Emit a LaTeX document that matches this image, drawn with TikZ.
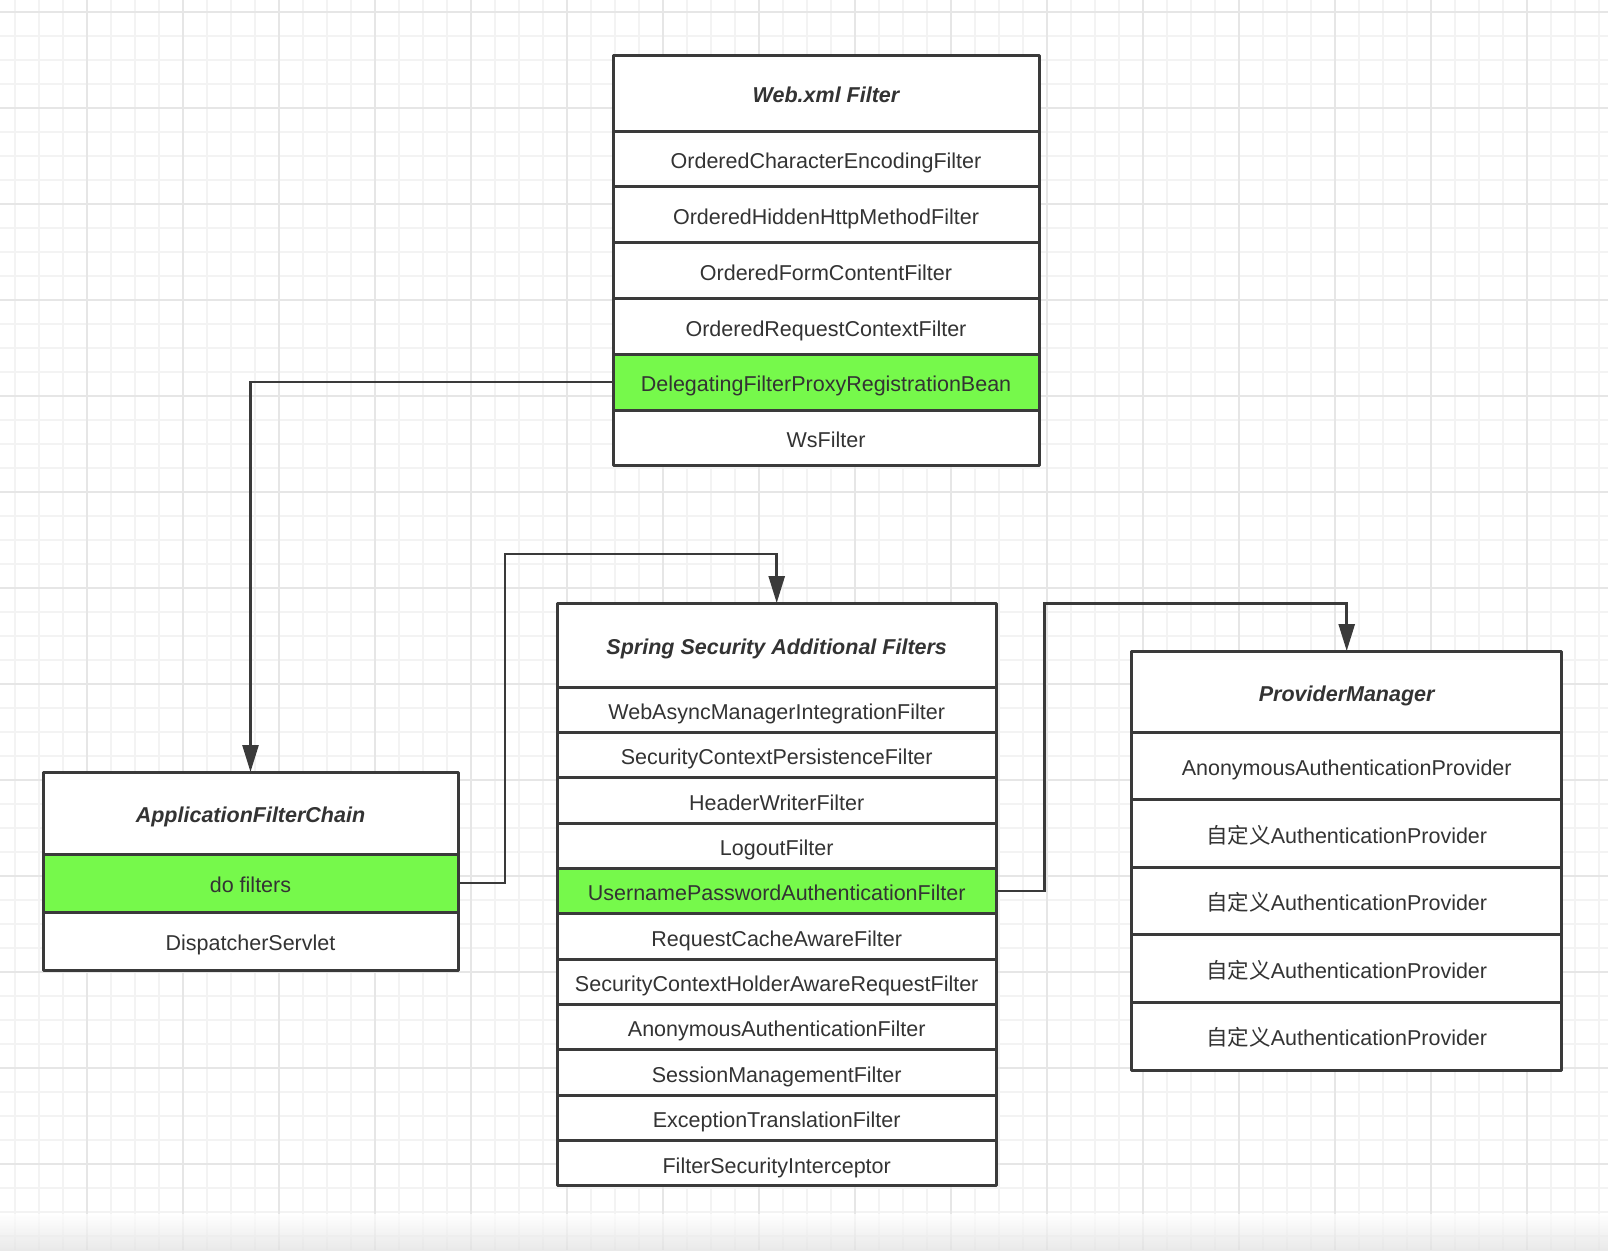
\documentclass[tikz,border=0pt]{standalone}
\usepackage{fontspec}
\setmainfont{Liberation Sans}
\newfontfamily\cjk{Noto Sans CJK SC}
\usetikzlibrary{arrows.meta}
\definecolor{linegray}{RGB}{58,58,58}
\definecolor{textgray}{RGB}{51,51,51}
\definecolor{hitgreen}{RGB}{118,249,75}
\definecolor{minorgrid}{RGB}{243,243,243}
\definecolor{majorgrid}{RGB}{230,230,230}
\tikzset{
  box/.style={draw=linegray, line width=3pt, fill=white, text=textgray,
    outer sep=0pt, inner sep=0pt, line join=round,
    text height=19.4pt, text depth=0pt,
    font=\fontsize{21.5}{26}\selectfont},
  head/.style={box, font=\fontsize{21.5}{26}\selectfont\bfseries\itshape},
  hit/.style={box, fill=hitgreen},
  link/.style={draw=linegray, line width=2.6pt,
    -{Triangle[length=27pt,width=16pt]}},
}
\begin{document}
\begin{tikzpicture}[x=1pt,y=-1pt]
    \useasboundingbox (0,0) rectangle (1608,1250);
    \fill[white] (0,0) rectangle (1608,1250);
    % background grid
    \foreach \x in {15,39,...,1608} \draw[minorgrid, line width=1.5pt] (\x,0) -- (\x,1250);
    \foreach \y in {12,36,...,1250} \draw[minorgrid, line width=1.5pt] (0,\y) -- (1608,\y);
    \foreach \x in {87,183,...,1608} \draw[majorgrid, line width=2pt] (\x,0) -- (\x,1250);
    \foreach \y in {12,108,...,1250} \draw[majorgrid, line width=2pt] (0,\y) -- (1608,\y);
    \shade[top color=white, bottom color=black!12, fill opacity=0.7] (0,1214) rectangle (1608,1250);
    % Web.xml Filter
    \node[head, minimum width=426pt, minimum height=76pt] (web) at (826,93) {Web.xml Filter};
    \node[box, minimum width=426pt, minimum height=55.8pt] (ocef) at (826,158.9) {OrderedCharacterEncodingFilter};
    \node[box, minimum width=426pt, minimum height=55.8pt] (ohhm) at (826,214.7) {OrderedHiddenHttpMethodFilter};
    \node[box, minimum width=426pt, minimum height=55.8pt] (ofcf) at (826,270.5) {OrderedFormContentFilter};
    \node[box, minimum width=426pt, minimum height=55.8pt] (orcf) at (826,326.3) {OrderedRequestContextFilter};
    \node[hit, minimum width=426pt, minimum height=55.8pt] (dfp) at (826,382.1) {DelegatingFilterProxyRegistrationBean};
    \node[box, minimum width=426pt, minimum height=55.8pt] (ws) at (826,437.9) {WsFilter};
    % ApplicationFilterChain
    \node[head, minimum width=415pt, minimum height=82pt] (afc) at (250.5,813) {ApplicationFilterChain};
    \node[hit, minimum width=415pt, minimum height=58pt] (dofilters) at (250.5,883) {do filters};
    \node[box, minimum width=415pt, minimum height=58pt] (ds) at (250.5,941) {DispatcherServlet};
    % Spring Security Additional Filters
    \node[head, minimum width=439pt, minimum height=84pt] (ssaf) at (776.7,645) {Spring Security Additional Filters};
    \node[box, minimum width=439pt, minimum height=45.36pt] (wami) at (776.7,709.7) {WebAsyncManagerIntegrationFilter};
    \node[box, minimum width=439pt, minimum height=45.36pt] (scpf) at (776.7,755.0) {SecurityContextPersistenceFilter};
    \node[box, minimum width=439pt, minimum height=45.36pt] (hwf) at (776.7,800.4) {HeaderWriterFilter};
    \node[box, minimum width=439pt, minimum height=45.36pt] (lof) at (776.7,845.8) {LogoutFilter};
    \node[hit, minimum width=439pt, minimum height=45.36pt] (upaf) at (776.7,891.1) {UsernamePasswordAuthenticationFilter};
    \node[box, minimum width=439pt, minimum height=45.36pt] (rcaf) at (776.7,936.5) {RequestCacheAwareFilter};
    \node[box, minimum width=439pt, minimum height=45.36pt] (schf) at (776.7,981.8) {SecurityContextHolderAwareRequestFilter};
    \node[box, minimum width=439pt, minimum height=45.36pt] (aaf) at (776.7,1027.2) {AnonymousAuthenticationFilter};
    \node[box, minimum width=439pt, minimum height=45.36pt] (smf) at (776.7,1072.6) {SessionManagementFilter};
    \node[box, minimum width=439pt, minimum height=45.36pt] (etf) at (776.7,1117.9) {ExceptionTranslationFilter};
    \node[box, minimum width=439pt, minimum height=45.36pt] (fsi) at (776.7,1163.3) {FilterSecurityInterceptor};
    % ProviderManager
    \node[head, minimum width=430.5pt, minimum height=81pt] (pm) at (1346.7,691.5) {ProviderManager};
    \node[box, minimum width=430.5pt, minimum height=67.6pt] (aap) at (1346.7,765.8) {AnonymousAuthenticationProvider};
    \node[box, minimum width=430.5pt, minimum height=67.6pt] (cap1) at (1346.7,833.4) {{\cjk 自定义}AuthenticationProvider};
    \node[box, minimum width=430.5pt, minimum height=67.6pt] (cap2) at (1346.7,901.0) {{\cjk 自定义}AuthenticationProvider};
    \node[box, minimum width=430.5pt, minimum height=67.6pt] (cap3) at (1346.7,968.6) {{\cjk 自定义}AuthenticationProvider};
    \node[box, minimum width=430.5pt, minimum height=67.6pt] (cap4) at (1346.7,1036.2) {{\cjk 自定义}AuthenticationProvider};
    % connectors
    \coordinate (bendA) at (505,554);
    \coordinate (bendB) at (1044.7,603.3);
    \draw[link] (dfp.west) -| (afc.north);
    \draw[link] (dofilters.east) -| (bendA) -| (ssaf.north);
    \draw[link] (upaf.east) -| (bendB) -| (pm.north);
\end{tikzpicture}
\end{document}
